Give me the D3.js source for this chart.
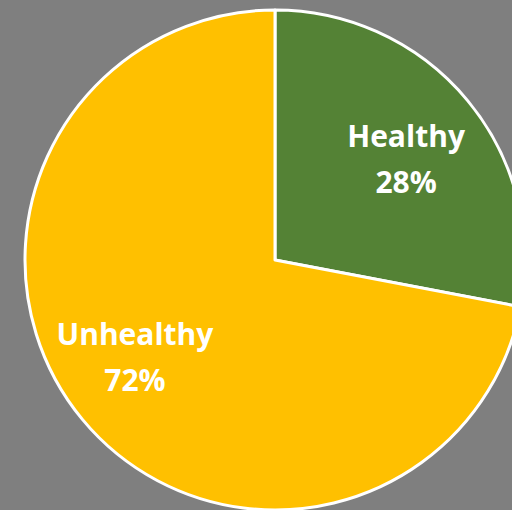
<!DOCTYPE html>
<html>
<head>
<meta charset="utf-8">
<script src="https://cdn.jsdelivr.net/npm/d3@7"></script>
<style>
  html, body { margin: 0; padding: 0; background: #7f7f7f; }
  svg { display: block; }
</style>
</head>
<body>
<div id="chart"></div>
<script>
var w = 512, h = 510;

var categories = ["Healthy", "Unhealthy"];
var values = [28, 72];
var colors = ["#548235", "#ffc000"];

var cx = 275, cy = 260, r = 250;

var svg = d3.select("#chart")
    .append("svg")
    .attr("width", w)
    .attr("height", h);

svg.append("rect")
    .attr("width", w)
    .attr("height", h)
    .style("fill", "#7f7f7f");

var pie = d3.pie().sort(null)(values);

var arc = d3.arc()
    .innerRadius(0)
    .outerRadius(r);

var labelArc = d3.arc()
    .innerRadius(r * 0.67)
    .outerRadius(r * 0.67);

// excel's best-fit label placement, roughly
var nudge = [[2, -2], [-11, -18]];

var g = svg.append("g")
    .attr("transform", "translate(" + cx + "," + cy + ")");

g.selectAll("path")
    .data(pie)
    .enter().append("path")
    .attr("d", arc)
    .style("fill", function(d, i) { return colors[i]; })
    .style("stroke", "#fff")
    .style("stroke-width", 3)
    .style("stroke-linejoin", "round");

var total = d3.sum(values);

var labels = g.selectAll("text")
    .data(pie)
    .enter().append("text")
    .attr("transform", function(d, i) {
      var c = labelArc.centroid(d);
      return "translate(" + (c[0] + nudge[i][0]) + "," + (c[1] + nudge[i][1]) + ")";
    })
    .attr("text-anchor", "middle")
    .style("font-family", "'Open Sans', sans-serif")
    .style("font-weight", "bold")
    .style("font-size", "30px")
    .style("fill", "#fff");

labels.append("tspan")
    .attr("x", 0)
    .attr("y", -4)
    .text(function(d, i) { return categories[i]; });

labels.append("tspan")
    .attr("x", 0)
    .attr("y", 42)
    .text(function(d) { return Math.round(d.value / total * 100) + "%"; });
</script>
</body>
</html>
